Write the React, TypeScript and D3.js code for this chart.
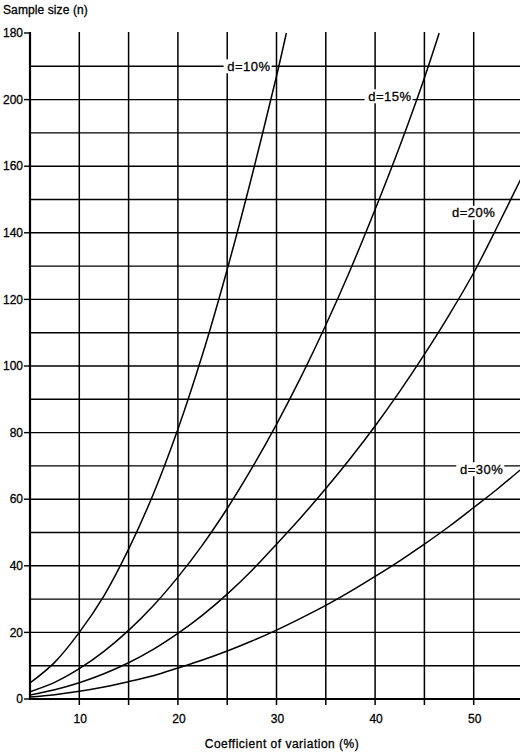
import React from 'react';
import * as d3 from 'd3';

// coefficient of variation (%) sampled along each curve
const cvA = [5, 7.5, 10, 12.5, 15, 17.5, 20, 22.5, 25, 27.5, 30, 31];
const nD10 = [4.8, 11, 20, 31, 45, 61.5, 81, 103.5, 129, 157, 187, 200];

const cvB = [5, 7.5, 10, 12.5, 15, 17.5, 20, 22.5, 25, 27.5, 30, 32.5, 35, 37.5, 40, 42.5, 45, 46.5];
const nD15 = [2.2, 5, 9.1, 14.3, 20.6, 28, 36.6, 46.3, 57.2, 69.3, 82.5, 96.8, 112.3, 129, 147, 166, 186.5, 200];

const cvC = [5, 7.5, 10, 12.5, 15, 17.5, 20, 22.5, 25, 27.5, 30, 32.5, 35, 37.5, 40, 42.5, 45, 47.5, 50, 52.5, 55];
const nD20 = [1.2, 2.8, 4.9, 7.6, 10.9, 14.9, 19.7, 25.2, 31.5, 38.6, 46.5, 54.6, 63.2, 72.3, 82, 92.4, 103.5, 115.3, 128, 142.5, 157.5];
const nD30 = [0.6, 1.3, 2.3, 3.6, 5.2, 7, 9.3, 11.7, 14.4, 17.4, 20.7, 24.3, 28.1, 32.3, 36.8, 41.5, 46.5, 51.8, 57.5, 63.3, 69.5];

const seriesLabels = ['d=10%', 'd=15%', 'd=20%', 'd=30%'];
// label anchor (right end of text) in data units
const labelCv = [29.4, 43.7, 52.2, 53];
const labelN = [190, 181, 146, 69];

const xTicks = [10, 20, 30, 40, 50];
const xGrid = [10, 15, 20, 25, 30, 35, 40, 45, 50];
const yTicks = [0, 20, 40, 60, 80, 100, 120, 140, 160, 180, 200];
// as printed in the original (top two labels swapped)
const yTickLabels = ['0', '20', '40', '60', '80', '100', '120', '140', '160', '200', '180'];
const yGrid = [10, 20, 30, 40, 50, 60, 70, 80, 90, 100, 110, 120, 130, 140, 150, 160, 170, 180, 190];

const W = 520;
const H = 755;
const font = '"Liberation Sans", Arial, sans-serif';

export default function App() {
  const x = d3.scaleLinear().domain([5, 55]).range([30, 523]);
  const y = d3.scaleLinear().domain([0, 200]).range([699, 33]);

  const line = d3
    .line<[number, number]>()
    .x((d) => x(d[0]))
    .y((d) => y(d[1]))
    .curve(d3.curveCatmullRom.alpha(0.5));

  const curves = [
    d3.zip(cvA, nD10),
    d3.zip(cvB, nD15),
    d3.zip(cvC, nD20),
    d3.zip(cvC, nD30),
  ] as [number, number][][];

  const top = y(200) - 1;
  const bottom = y(0);
  const textStroke = { stroke: '#000', strokeWidth: 0.3 };

  return (
    <svg
      width={W}
      height={H}
      style={{ position: 'absolute', left: 0, top: 0, background: '#fff' }}
      fontFamily={font}
    >
      <defs>
        <clipPath id="plot">
          <rect x={x(5)} y={top} width={W - x(5)} height={bottom - top} />
        </clipPath>
      </defs>

      {/* grid */}
      {yGrid.map((v) => (
        <line key={'h' + v} x1={x(5)} x2={W} y1={y(v)} y2={y(v)} stroke="#000" strokeWidth={1.4} />
      ))}
      {xGrid.map((v) => (
        <line key={'v' + v} x1={x(v)} x2={x(v)} y1={top} y2={bottom + 6} stroke="#000" strokeWidth={1.5} />
      ))}

      {/* axes */}
      <line x1={x(5)} x2={x(5)} y1={top} y2={bottom + 1} stroke="#000" strokeWidth={2.2} />
      <line x1={x(5)} x2={W} y1={bottom} y2={bottom} stroke="#000" strokeWidth={2.2} />

      {yTicks.map((v, i) => (
        <g key={'yt' + v}>
          <line x1={x(5) - 6} x2={x(5)} y1={y(v)} y2={y(v)} stroke="#000" strokeWidth={1.4} />
          <text x={x(5) - 7} y={y(v)} dy="0.35em" textAnchor="end" fontSize={12} {...textStroke}>
            {yTickLabels[i]}
          </text>
        </g>
      ))}
      {xTicks.map((v) => (
        <text key={'xt' + v} x={x(v) + 1} y={bottom + 24} textAnchor="middle" fontSize={12} {...textStroke}>
          {v}
        </text>
      ))}

      {/* curves */}
      <g clipPath="url(#plot)">
        {curves.map((c, i) => (
          <path key={'c' + i} d={line(c) ?? ''} fill="none" stroke="#000" strokeWidth={1.5} />
        ))}
      </g>

      {/* curve labels */}
      {seriesLabels.map((s, i) => (
        <g key={'l' + s}>
          <rect x={x(labelCv[i]) - 47} y={y(labelN[i]) - 7} width={48} height={14} fill="#fff" />
          <text
            x={x(labelCv[i])}
            y={y(labelN[i])}
            dy="0.35em"
            textAnchor="end"
            fontSize={13}
            letterSpacing={0.5}
            {...textStroke}
          >
            {s}
          </text>
        </g>
      ))}

      <text x={3} y={14} fontSize={12} letterSpacing={0.1} {...textStroke}>
        Sample size (n)
      </text>
      <text x={282} y={748} textAnchor="middle" fontSize={12} letterSpacing={0.5} {...textStroke}>
        Coefficient of variation (%)
      </text>
    </svg>
  );
}
